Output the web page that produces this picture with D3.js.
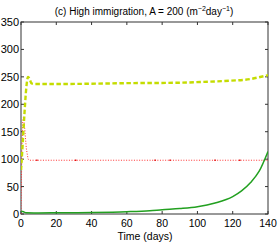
<!DOCTYPE html>
<html><head><meta charset="utf-8">
<script src="https://cdn.jsdelivr.net/npm/d3@7"></script>
<style>body{margin:0;background:#fff}svg{display:block}text{font-family:"Liberation Sans",Arial,sans-serif;fill:#000}</style>
</head><body><svg id="c" width="280" height="242"></svg>
<script>
const greenT = [0, 1, 3, 10, 20, 40, 60, 73, 80, 90, 100, 110, 120, 125, 130, 135, 140];
const greenV = [5, 4.5, 2.2, 2, 2.2, 2.8, 4.2, 6, 7.8, 10, 13.3, 20, 31.6, 42, 57, 78, 114];
const yellowT = [0, 1, 2, 3, 4, 5, 6, 8, 22, 40, 60, 90, 101.5, 118.5, 130, 135.5, 140];
const yellowV = [80, 130, 185, 230, 250, 245, 238, 237, 237, 237.5, 238.5, 239.3, 240.6, 243, 246, 249.7, 253];
const redT = [0, 0.5, 1, 1.5, 2, 3, 4, 5, 140];
const redV = [0, 120, 170, 178, 160, 120, 100, 98, 98];
const redMarkT = [9, 31, 76, 84.5, 110, 124, 138];
const xTicks = [0, 20, 40, 60, 80, 100, 120, 140];
const yTicks = [0, 50, 100, 150, 200, 250, 300, 350];

const svg = d3.select("#c");
const L = 21, R = 268, T = 22, B = 214;
const x = d3.scaleLinear().domain([0, 140]).range([L, R]);
const y = d3.scaleLinear().domain([0, 350]).range([B, T]);

const g = svg.append("g");
g.append("rect").attr("x", L).attr("y", T).attr("width", R - L).attr("height", B - T)
  .attr("fill", "none").attr("stroke", "#333").attr("stroke-width", 1);

const tk = 3;
xTicks.forEach(t => {
  g.append("line").attr("x1", x(t)).attr("x2", x(t)).attr("y1", B).attr("y2", B - tk).attr("stroke", "#333");
  g.append("line").attr("x1", x(t)).attr("x2", x(t)).attr("y1", T).attr("y2", T + tk).attr("stroke", "#333");
  g.append("text").attr("x", x(t)).attr("y", 226.5).attr("text-anchor", "middle").attr("font-size", 10.5).text(t);
});
yTicks.forEach(v => {
  g.append("line").attr("x1", L).attr("x2", L + tk).attr("y1", y(v)).attr("y2", y(v)).attr("stroke", "#333");
  g.append("line").attr("x1", R).attr("x2", R - tk).attr("y1", y(v)).attr("y2", y(v)).attr("stroke", "#333");
  g.append("text").attr("x", L - 2).attr("y", y(v) + 4).attr("text-anchor", "end").attr("font-size", 11).text(v);
});

const line = (ts, vs, curve) => d3.line().x((d, i) => x(ts[i])).y(d => y(d)).curve(curve)(vs);

svg.append("clipPath").attr("id", "cp").append("rect")
  .attr("x", L).attr("y", T).attr("width", R - L).attr("height", B - T);
const pg = svg.append("g").attr("clip-path", "url(#cp)");

pg.append("path").attr("d", line(redT, redV, d3.curveLinear)).attr("fill", "none")
  .attr("stroke", "#ff3030").attr("stroke-width", 1).attr("stroke-dasharray", "1,1.6");
pg.selectAll(".rm").data(redMarkT).enter().append("rect")
  .attr("x", d => x(d) - 0.7).attr("y", y(98) - 0.7).attr("width", 1.4).attr("height", 1.4).attr("fill", "#e00000");
pg.append("path").attr("d", line(greenT, greenV, d3.curveMonotoneX)).attr("fill", "none")
  .attr("stroke", "#22a020").attr("stroke-width", 1.5);
pg.append("path").attr("d", line(yellowT, yellowV, d3.curveMonotoneX)).attr("fill", "none")
  .attr("stroke", "#c4dc00").attr("stroke-width", 2.4).attr("stroke-dasharray", "4.5,2.5");

const title = svg.append("text").attr("x", 144).attr("y", 15).attr("text-anchor", "middle").attr("font-size", 10);
title.append("tspan").text("(c) High immigration, A = 200 (m");
title.append("tspan").attr("font-size", 7).attr("dy", -4).text("\u22122");
title.append("tspan").attr("dy", 4).text("day");
title.append("tspan").attr("font-size", 7).attr("dy", -4).text("\u22121");
title.append("tspan").attr("dy", 4).text(")");

svg.append("text").attr("x", 145).attr("y", 240).attr("text-anchor", "middle").attr("font-size", 10.5).text("Time (days)");
</script></body></html>
